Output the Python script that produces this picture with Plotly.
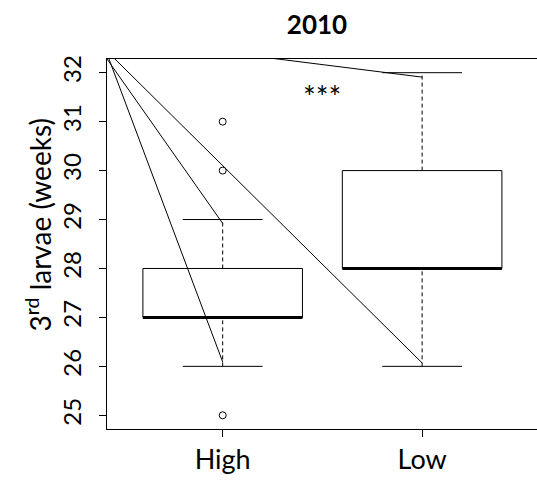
import plotly.graph_objects as go

# ---- data ----
groups = ["High", "Low"]
group_pos = [1, 2]
lower_whisker = [26, 26]
q1 = [27, 28]
median = [27, 28]
q3 = [28, 30]
upper_whisker = [29, 32]
outlier_group = [1, 1, 1]
outlier_values = [31, 30, 25]
y_ticks = [25, 26, 27, 28, 29, 30, 31, 32]
signif_label = "***"
signif_pos = [1.5, 31.6]
title_text = "2010"
ylabel = "3<sup>rd</sup> larvae (weeks)"

# stray line segments visible in the reference (start -> end, data units)
stray_x0 = [0.43, 0.42, 0.415, 0.415]
stray_y0 = [32.28, 32.28, 32.46, 32.72]
stray_x1 = [1.0, 1.0, 2.0, 2.0]
stray_y1 = [26.09, 28.92, 26.07, 31.91]

FONT = "Lato, 'Open Sans', sans-serif"
box_half = 0.4
cap_half = 0.2

fig = go.Figure()
shapes = []
for g, lw, a, m, b, uw in zip(group_pos, lower_whisker, q1, median, q3, upper_whisker):
    shapes.append(dict(type="rect", xref="x", yref="y", x0=g - box_half, x1=g + box_half,
                       y0=a, y1=b, line=dict(color="black", width=1), fillcolor="white", layer="below"))
    shapes.append(dict(type="line", xref="x", yref="y", x0=g - box_half, x1=g + box_half,
                       y0=m, y1=m, line=dict(color="black", width=3)))
    shapes.append(dict(type="line", xref="x", yref="y", x0=g, x1=g, y0=lw, y1=a,
                       line=dict(color="black", width=1, dash="4px,3px")))
    shapes.append(dict(type="line", xref="x", yref="y", x0=g, x1=g, y0=b, y1=uw,
                       line=dict(color="black", width=1, dash="4px,3px")))
    shapes.append(dict(type="line", xref="x", yref="y", x0=g - cap_half, x1=g + cap_half,
                       y0=lw, y1=lw, line=dict(color="black", width=1)))
    shapes.append(dict(type="line", xref="x", yref="y", x0=g - cap_half, x1=g + cap_half,
                       y0=uw, y1=uw, line=dict(color="black", width=1)))

fig.add_trace(go.Scatter(x=outlier_group, y=outlier_values, mode="markers",
                         marker=dict(symbol="circle-open", size=7, color="black", line=dict(width=1)),
                         showlegend=False, hoverinfo="skip"))

for x0, y0, x1, y1 in zip(stray_x0, stray_y0, stray_x1, stray_y1):
    fig.add_trace(go.Scatter(x=[x0, x1], y=[y0, y1], mode="lines",
                             line=dict(color="black", width=1), showlegend=False, hoverinfo="skip"))

fig.add_annotation(x=signif_pos[0], y=signif_pos[1], xref="x", yref="y", text=signif_label,
                   showarrow=False, yshift=-4, font=dict(family=FONT, size=30, color="black"))

fig.add_annotation(x=0, xref="paper", xshift=-68, xanchor="center",
                   y=0.55, yref="paper", yanchor="middle", textangle=-90,
                   text=ylabel, showarrow=False, font=dict(family=FONT, size=28, color="black"))

fig.update_layout(
    width=537, height=480,
    margin=dict(l=107, r=0, t=59, b=51),
    paper_bgcolor="white", plot_bgcolor="white",
    shapes=shapes,
    title=dict(text="<b>" + title_text + "</b>", x=317 / 537, xanchor="center", y=1 - 25 / 480,
               yanchor="middle", font=dict(family=FONT, size=26, color="black")),
    font=dict(family=FONT, color="black"),
    showlegend=False,
)
fig.update_xaxes(range=[0.42, 2.576], tickvals=group_pos, ticktext=groups,
                 showline=True, linecolor="black", linewidth=1, mirror=True,
                 ticks="outside", ticklen=7, tickcolor="black", showgrid=False, zeroline=False,
                 tickfont=dict(family=FONT, size=27, color="black"))
fig.update_yaxes(range=[24.72, 32.28], tickvals=y_ticks,
                 showline=True, linecolor="black", linewidth=1, mirror=True,
                 ticks="outside", ticklen=7, tickcolor="black", showgrid=False, zeroline=False,
                 tickangle=-90, ticklabelstandoff=8,
                 tickfont=dict(family=FONT, size=24, color="black"))

fig.write_html("out.html")
